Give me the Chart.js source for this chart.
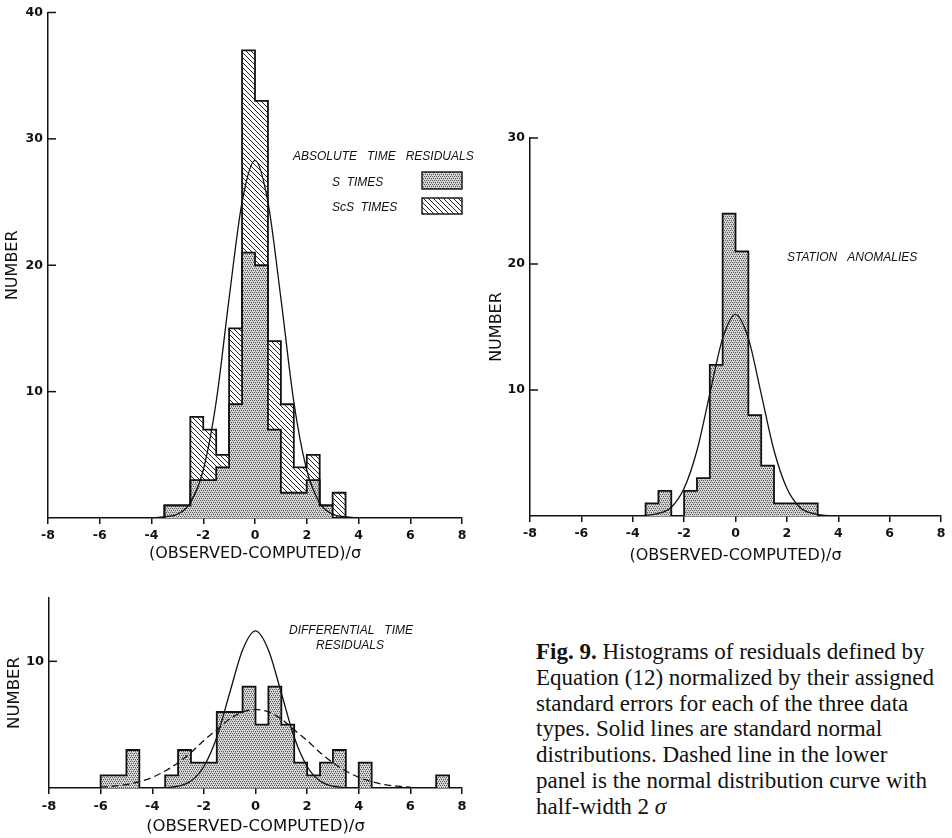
<!DOCTYPE html>
<html>
<head>
<meta charset="utf-8">
<title>Fig. 9 - histograms of normalized residuals</title>
<script src="https://cdn.jsdelivr.net/npm/chart.js@4.4.1/dist/chart.umd.min.js"></script>
<style>
  html, body { margin:0; padding:0; background:#fff; }
  #page { position:relative; width:952px; height:838px; overflow:hidden; }
  canvas { position:absolute; }
  #cAbs { left:0; top:0; }
  #cSta { left:476px; top:110px; }
  #cDif { left:0; top:585px; }
  #caption {
    position:absolute; left:536px; top:639px;
    font-family:"Liberation Serif", "Times New Roman", serif;
    font-size:23px; line-height:25.8px; color:#111; white-space:nowrap;
  }
</style>
</head>
<body>
<div id="page">
  <canvas id="cAbs" width="475" height="570"></canvas>
  <canvas id="cSta" width="476" height="460"></canvas>
  <canvas id="cDif" width="475" height="253"></canvas>
  <div id="caption"><b>Fig. 9.</b> Histograms of residuals defined by<br>Equation (12) normalized by their assigned<br>standard errors for each of the three data<br>types. Solid lines are standard normal<br>distributions. Dashed line in the lower<br>panel is the normal distribution curve with<br>half-width 2 <i>σ</i></div>
</div>

<script>
// ---------- data ----------
const xTicks = [-8, -6, -4, -2, 0, 2, 4, 6, 8];

// absolute time residuals, 0.5-sigma bins
const absEdges = [-3.5, -3, -2.5, -2, -1.5, -1, -0.5, 0, 0.5, 1, 1.5, 2, 2.5, 3, 3.5];
const sTimes   = [1, 1, 3, 3, 4, 9, 21, 20, 7, 2, 2, 3, 1, 0];
const scsTimes = [0, 0, 5, 4, 1, 6, 16, 13, 7, 7, 2, 2, 0, 2];
const absCurveX = [-4, -3.5, -3, -2.5, -2, -1.5, -1, -0.5, 0, 0.5, 1, 1.5, 2, 2.5, 3, 3.5, 4];
const absCurveY = [0, 0.1, 0.3, 1.2, 3.8, 9.2, 17.4, 25, 28.3, 25, 17.4, 9.2, 3.8, 1.2, 0.3, 0.1, 0];
const absYTicks = [10, 20, 30, 40];

// station anomalies
const staEdges  = [-3.5, -3, -2.5, -2, -1.5, -1, -0.5, 0, 0.5, 1, 1.5, 2, 2.5, 3.2];
const staCounts = [1, 2, 0, 2, 3, 12, 24, 21, 8, 4, 1, 1, 1];
const staCurveX = [-4, -3.5, -3, -2.5, -2, -1.5, -1, -0.5, 0, 0.5, 1, 1.5, 2, 2.5, 3, 3.5, 4];
const staCurveY = [0, 0.05, 0.2, 0.7, 2.2, 5.2, 9.7, 14.1, 16, 14.1, 9.7, 5.2, 2.2, 0.7, 0.2, 0.05, 0];
const staYTicks = [10, 20, 30];

// differential time residuals
const difEdges  = [-6, -5.5, -5, -4.5, -4, -3.5, -3, -2.5, -2, -1.5, -1, -0.5, 0, 0.5,
                   1, 1.5, 2, 2.5, 3, 3.5, 4, 4.5, 5, 5.5, 6, 6.5, 7, 7.5];
const difCounts = [1, 1, 3, 0, 0, 1, 3, 2, 2, 6, 6, 8, 5, 8,
                   5, 2, 1, 2, 3, 0, 2, 0, 0, 0, 0, 0, 1];
const difCurveX = [-3.5, -3, -2.5, -2, -1.5, -1, -0.5, 0, 0.5, 1, 1.5, 2, 2.5, 3, 3.5];
const difCurveY = [0.03, 0.14, 0.55, 1.7, 4.0, 7.5, 10.9, 12.4, 10.9, 7.5, 4.0, 1.7, 0.55, 0.14, 0.03];
const difWideX  = [-6, -5.5, -5, -4.5, -4, -3.5, -3, -2.5, -2, -1.5, -1, -0.5, 0,
                   0.5, 1, 1.5, 2, 2.5, 3, 3.5, 4, 4.5, 5, 5.5, 6];
const difWideY  = [0.07, 0.14, 0.27, 0.5, 0.84, 1.34, 2.0, 2.8, 3.75, 4.6, 5.45, 6.0, 6.2,
                   6.0, 5.45, 4.6, 3.75, 2.8, 2.0, 1.34, 0.84, 0.5, 0.27, 0.14, 0.07];
const difYTicks = [10];

// ---------- helpers ----------
const INK = '#111';
const SANS = '"DejaVu Sans", "Liberation Sans", sans-serif';

const $ = sel => document.querySelector(sel);

// halftone-like dot screen for the stippled bars
function stipplePattern(ctx) {
  const c = document.createElement('canvas');
  c.width = c.height = 4;
  const g = c.getContext('2d');
  g.fillStyle = '#d8d8d8'; g.fillRect(0, 0, 4, 4);
  g.fillStyle = '#5a5a5a';
  [[0, 0], [2, 0], [1, 2], [3, 2]].forEach(([x, y]) => g.fillRect(x, y, 1, 1));
  g.fillStyle = '#a8a8a8';
  [[1, 1], [3, 3]].forEach(([x, y]) => g.fillRect(x, y, 1, 1));
  return ctx.createPattern(c, 'repeat');
}

function hatchPattern(ctx) {
  const n = 5;
  const c = document.createElement('canvas');
  c.width = c.height = n;
  const g = c.getContext('2d');
  g.fillStyle = '#fff'; g.fillRect(0, 0, n, n);
  g.strokeStyle = '#222'; g.lineWidth = 1;
  g.beginPath();
  g.moveTo(-1, -1); g.lineTo(n + 1, n + 1);
  g.moveTo(-1, n - 1); g.lineTo(1, n + 1);
  g.moveTo(n - 1, -1); g.lineTo(n + 1, 1);
  g.stroke();
  return ctx.createPattern(c, 'repeat');
}

// histogram outline as a step line, one point per bin edge.
// with stepped 'after' the line rises at the previous edge, so edge i carries bin i-1
function stepPoints(edges, counts) {
  return [{ x: edges[0], y: 0 }]
    .concat(edges.map((e, i) => ({ x: e, y: i ? (counts[i - 1] ?? 0) : 0 })))
    .concat([{ x: edges[edges.length - 1], y: 0 }]);
}

function curvePoints(xs, ys) {
  return xs.map((x, i) => ({ x, y: ys[i] }));
}

function histSet(points, fill, bg) {
  return { data: points, stepped: 'after', fill, backgroundColor: bg,
           borderColor: INK, borderWidth: 1.8, pointRadius: 0 };
}

function curveSet(points, dash) {
  return { data: points, cubicInterpolationMode: 'monotone', fill: false,
           borderColor: INK, borderWidth: 1.3, borderDash: dash || [], pointRadius: 0 };
}

// y ticks point into the plot, so they are drawn here
const innerTicks = {
  id: 'innerTicks',
  afterDraw(chart) {
    const { ctx, scales: { x, y } } = chart;
    ctx.save();
    ctx.strokeStyle = INK;
    ctx.lineWidth = 1.5;
    y.ticks.forEach(t => {
      const py = y.getPixelForValue(t.value);
      ctx.beginPath(); ctx.moveTo(x.left, py); ctx.lineTo(x.left + 8, py); ctx.stroke();
    });
    ctx.restore();
  }
};

// panel captions and legend swatches
const notes = {
  id: 'notes',
  afterDraw(chart, args, opts) {
    const ctx = chart.ctx;
    ctx.save();
    ctx.fillStyle = INK;
    ctx.textBaseline = 'middle';
    (opts.texts || []).forEach(t => {
      ctx.font = opts.font;
      ctx.textAlign = t.align || 'left';
      ctx.fillText(t.text, t.x, t.y);
    });
    (opts.boxes || []).forEach(b => {
      ctx.fillStyle = b.fill;
      ctx.fillRect(b.x, b.y, b.w, b.h);
      ctx.strokeStyle = INK; ctx.lineWidth = 1.4;
      ctx.strokeRect(b.x, b.y, b.w, b.h);
    });
    ctx.restore();
  }
};

function scales(p) {
  const tickFont = { family: SANS, size: p.tickSize, weight: 'bold' };
  return {
    x: {
      type: 'linear', min: -8, max: 8,
      afterBuildTicks: s => { s.ticks = xTicks.map(v => ({ value: v })); },
      afterFit: s => { s.height = p.xHeight; },
      grid: { drawOnChartArea: false, drawTicks: true, tickLength: 6, tickColor: INK, lineWidth: 1.5 },
      border: { color: INK, width: 1.5 },
      ticks: { color: INK, font: tickFont, padding: p.xPad, maxRotation: 0, autoSkip: false },
      title: { display: true, text: '(OBSERVED-COMPUTED)/σ', color: INK,
               font: { family: SANS, size: p.titleSize }, padding: { top: 0, bottom: p.xTitlePad } }
    },
    y: {
      min: 0, max: p.yMax,
      afterBuildTicks: s => { s.ticks = p.yTicks.map(v => ({ value: v })); },
      afterFit: s => { s.width = p.yWidth; },
      grid: { display: false, drawTicks: false },
      border: { color: INK, width: 1.5 },
      ticks: { color: INK, font: tickFont, padding: 5 },
      title: { display: true, text: 'NUMBER', color: INK,
               font: { family: SANS, size: p.titleSize }, padding: { top: p.yTitlePad, bottom: 0 } }
    }
  };
}

function makeChart(canvas, datasets, p, noteOpts) {
  return new Chart(canvas, {
    type: 'line',
    data: { datasets },
    options: {
      responsive: false,
      animation: false,
      events: [],
      layout: { padding: { top: p.top, right: p.right, left: 0, bottom: 0 } },
      scales: scales(p),
      plugins: {
        legend: { display: false },
        tooltip: { enabled: false },
        filler: { drawTime: 'beforeDatasetsDraw' },
        notes: noteOpts
      }
    },
    plugins: [innerTicks, notes]
  });
}

// ---------- panels ----------
document.addEventListener('DOMContentLoaded', () => {
  const noteFont = 'italic 12px "Liberation Sans", sans-serif';

  // absolute time residuals: S stippled, ScS hatched on top
  const cAbs = $('#cAbs');
  const ctxA = cAbs.getContext('2d');
  const dotsA = stipplePattern(ctxA), hatchA = hatchPattern(ctxA);
  const absTotal = sTimes.map((v, i) => v + scsTimes[i]);
  makeChart(cAbs, [
    curveSet(curvePoints(absCurveX, absCurveY)),
    histSet(stepPoints(absEdges, absTotal), '+1', hatchA),
    histSet(stepPoints(absEdges, sTimes), 'origin', dotsA)
  ], { yMax: 40, yTicks: absYTicks, yWidth: 48, xHeight: 52, top: 12, right: 13,
       tickSize: 12.5, titleSize: 16, xPad: 4, xTitlePad: 7, yTitlePad: 3 }, {
    font: noteFont,
    texts: [
      { text: 'ABSOLUTE   TIME   RESIDUALS', x: 293, y: 157 },
      { text: 'S  TIMES', x: 332, y: 183 },
      { text: 'ScS  TIMES', x: 332, y: 208 }
    ],
    boxes: [
      { x: 422, y: 172, w: 40, h: 17, fill: dotsA },
      { x: 422, y: 198, w: 40, h: 16, fill: hatchA }
    ]
  });

  // station anomalies
  const cSta = $('#cSta');
  const dotsS = stipplePattern(cSta.getContext('2d'));
  makeChart(cSta, [
    curveSet(curvePoints(staCurveX, staCurveY)),
    histSet(stepPoints(staEdges, staCounts), 'origin', dotsS)
  ], { yMax: 30, yTicks: staYTicks, yWidth: 54, xHeight: 54, top: 28, right: 11,
       tickSize: 12.5, titleSize: 16, xPad: 4, xTitlePad: 5, yTitlePad: 11 }, {
    font: noteFont,
    texts: [{ text: 'STATION   ANOMALIES', x: 311, y: 148 }]
  });

  // differential time residuals
  const cDif = $('#cDif');
  const dotsD = stipplePattern(cDif.getContext('2d'));
  makeChart(cDif, [
    curveSet(curvePoints(difCurveX, difCurveY)),
    curveSet(curvePoints(difWideX, difWideY), [7, 4]),
    histSet(stepPoints(difEdges, difCounts), 'origin', dotsD)
  ], { yMax: 15, yTicks: difYTicks, yWidth: 49, xHeight: 50, top: 13, right: 13,
       tickSize: 13, titleSize: 16.5, xPad: 5, xTitlePad: 1, yTitlePad: 5 }, {
    font: noteFont,
    texts: [
      { text: 'DIFFERENTIAL   TIME', x: 289, y: 46 },
      { text: 'RESIDUALS', x: 316, y: 61 }
    ]
  });
});
</script>
</body>
</html>
